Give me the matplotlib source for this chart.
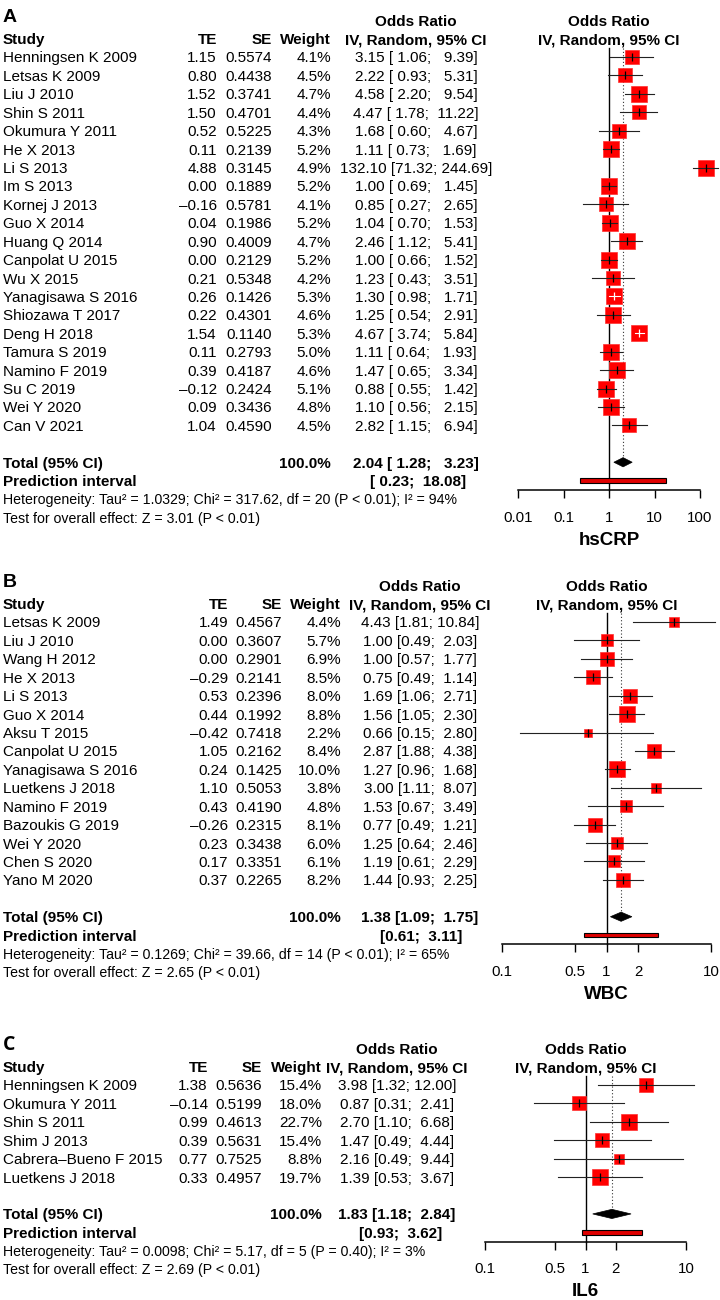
import numpy as np
import matplotlib
matplotlib.use('Agg')
import matplotlib.pyplot as plt
from matplotlib.patches import Polygon, Rectangle
from matplotlib.ticker import NullLocator

plt.rcParams['font.family'] = ['Liberation Sans', 'DejaVu Sans']

# ---------------- Panel A : hsCRP ----------------
a_studies = ["Henningsen K 2009", "Letsas K 2009", "Liu J 2010", "Shin S 2011", "Okumura Y 2011",
             "He X 2013", "Li S 2013", "Im S 2013", "Kornej J 2013", "Guo X 2014", "Huang Q 2014",
             "Canpolat U 2015", "Wu X 2015", "Yanagisawa S 2016", "Shiozawa T 2017", "Deng H 2018",
             "Tamura S 2019", "Namino F 2019", "Su C 2019", "Wei Y 2020", "Can V 2021"]
a_te = [1.15, 0.80, 1.52, 1.50, 0.52, 0.11, 4.88, 0.00, -0.16, 0.04, 0.90, 0.00, 0.21, 0.26, 0.22,
        1.54, 0.11, 0.39, -0.12, 0.09, 1.04]
a_se = [0.5574, 0.4438, 0.3741, 0.4701, 0.5225, 0.2139, 0.3145, 0.1889, 0.5781, 0.1986, 0.4009,
        0.2129, 0.5348, 0.1426, 0.4301, 0.1140, 0.2793, 0.4187, 0.2424, 0.3436, 0.4590]
a_weight = [4.1, 4.5, 4.7, 4.4, 4.3, 5.2, 4.9, 5.2, 4.1, 5.2, 4.7, 5.2, 4.2, 5.3, 4.6, 5.3, 5.0,
            4.6, 5.1, 4.8, 4.5]
a_or = [3.15, 2.22, 4.58, 4.47, 1.68, 1.11, 132.10, 1.00, 0.85, 1.04, 2.46, 1.00, 1.23, 1.30, 1.25,
        4.67, 1.11, 1.47, 0.88, 1.10, 2.82]
a_lo = [1.06, 0.93, 2.20, 1.78, 0.60, 0.73, 71.32, 0.69, 0.27, 0.70, 1.12, 0.66, 0.43, 0.98, 0.54,
        3.74, 0.64, 0.65, 0.55, 0.56, 1.15]
a_hi = [9.39, 5.31, 9.54, 11.22, 4.67, 1.69, 244.69, 1.45, 2.65, 1.53, 5.41, 1.52, 3.51, 1.71, 2.91,
        5.84, 1.93, 3.34, 1.42, 2.15, 6.94]
a_total = [2.04, 1.28, 3.23]
a_pred = [0.23, 18.08]
a_het = "Heterogeneity: Tau² = 1.0329; Chi² = 317.62, df = 20 (P < 0.01); I² = 94%"
a_test = "Test for overall effect: Z = 3.01 (P < 0.01)"
a_ticks = [0.01, 0.1, 1, 10, 100]
a_ticklabels = ["0.01", "0.1", "1", "10", "100"]
a_xlabel = "hsCRP"

# ---------------- Panel B : WBC ----------------
b_studies = ["Letsas K 2009", "Liu J 2010", "Wang H 2012", "He X 2013", "Li S 2013", "Guo X 2014",
             "Aksu T 2015", "Canpolat U 2015", "Yanagisawa S 2016", "Luetkens J 2018",
             "Namino F 2019", "Bazoukis G 2019", "Wei Y 2020", "Chen S 2020", "Yano M 2020"]
b_te = [1.49, 0.00, 0.00, -0.29, 0.53, 0.44, -0.42, 1.05, 0.24, 1.10, 0.43, -0.26, 0.23, 0.17, 0.37]
b_se = [0.4567, 0.3607, 0.2901, 0.2141, 0.2396, 0.1992, 0.7418, 0.2162, 0.1425, 0.5053, 0.4190,
        0.2315, 0.3438, 0.3351, 0.2265]
b_weight = [4.4, 5.7, 6.9, 8.5, 8.0, 8.8, 2.2, 8.4, 10.0, 3.8, 4.8, 8.1, 6.0, 6.1, 8.2]
b_or = [4.43, 1.00, 1.00, 0.75, 1.69, 1.56, 0.66, 2.87, 1.27, 3.00, 1.53, 0.77, 1.25, 1.19, 1.44]
b_lo = [1.81, 0.49, 0.57, 0.49, 1.06, 1.05, 0.15, 1.88, 0.96, 1.11, 0.67, 0.49, 0.64, 0.61, 0.93]
b_hi = [10.84, 2.03, 1.77, 1.14, 2.71, 2.30, 2.80, 4.38, 1.68, 8.07, 3.49, 1.21, 2.46, 2.29, 2.25]
b_total = [1.38, 1.09, 1.75]
b_pred = [0.61, 3.11]
b_het = "Heterogeneity: Tau² = 0.1269; Chi² = 39.66, df = 14 (P < 0.01); I² = 65%"
b_test = "Test for overall effect: Z = 2.65 (P < 0.01)"
b_ticks = [0.1, 0.5, 1, 2, 10]
b_ticklabels = ["0.1", "0.5", "1", "2", "10"]
b_xlabel = "WBC"

# ---------------- Panel C : IL6 ----------------
c_studies = ["Henningsen K 2009", "Okumura Y 2011", "Shin S 2011", "Shim J 2013",
             "Cabrera–Bueno F 2015", "Luetkens J 2018"]
c_te = [1.38, -0.14, 0.99, 0.39, 0.77, 0.33]
c_se = [0.5636, 0.5199, 0.4613, 0.5631, 0.7525, 0.4957]
c_weight = [15.4, 18.0, 22.7, 15.4, 8.8, 19.7]
c_or = [3.98, 0.87, 2.70, 1.47, 2.16, 1.39]
c_lo = [1.32, 0.31, 1.10, 0.49, 0.49, 0.53]
c_hi = [12.00, 2.41, 6.68, 4.44, 9.44, 3.67]
c_total = [1.83, 1.18, 2.84]
c_pred = [0.93, 3.62]
c_het = "Heterogeneity: Tau² = 0.0098; Chi² = 5.17, df = 5 (P = 0.40); I² = 3%"
c_test = "Test for overall effect: Z = 2.69 (P < 0.01)"
c_ticks = [0.1, 0.5, 1, 2, 10]
c_ticklabels = ["0.1", "0.5", "1", "2", "10"]
c_xlabel = "IL6"

W, H = 720, 1300
DPI = 100
fig = plt.figure(figsize=(W / DPI, H / DPI), dpi=DPI)

FS = 11
STEP = 18.42


def base_off(size):
    return 0.358 * size * DPI / 72.0


def ftext(x, y, s, ha='left', size=FS, weight='normal', family=None):
    kw = {}
    if family is not None:
        kw['family'] = family
    fig.text(x / W, 1 - (y + base_off(size)) / H, s, ha=ha, va='baseline',
             fontsize=size, fontweight=weight, **kw)


def fmt_te(v):
    s = f"{v:.2f}"
    return s.replace('-', '–')


def panel(label, label_family, studies, te, se, wt, orv, lo, hi, total, pred, het, test,
          ticks, ticklabels, xlabel, row0, cols, orc, pred_right, plot_px, xlim,
          lo_w, hi_w):
    n = len(studies)
    te_r, se_r, w_r = cols
    ry = lambda r: row0 + r * STEP

    # labels / headers
    ftext(3, row0 - 42, label, size=14, weight='bold', family=label_family)
    ftext(orc, ry(-2), "Odds Ratio", ha='center', weight='bold')
    ftext(orc, ry(-1), "IV, Random, 95% CI", ha='center', weight='bold')
    ftext(3, ry(-1), "Study", weight='bold')
    ftext(te_r, ry(-1), "TE", ha='right', weight='bold')
    ftext(se_r, ry(-1), "SE", ha='right', weight='bold')
    ftext(w_r, ry(-1), "Weight", ha='right', weight='bold')

    for i in range(n):
        y = ry(i)
        ftext(3, y, studies[i])
        ftext(te_r, y, fmt_te(te[i]), ha='right')
        ftext(se_r, y, f"{se[i]:.4f}", ha='right')
        ftext(w_r, y, f"{wt[i]:.1f}%", ha='right')
        ftext(orc, y, f"{orv[i]:.2f} [{lo[i]:{lo_w}.2f}; {hi[i]:{hi_w}.2f}]", ha='center')

    yt = ry(n + 1)
    yp = ry(n + 2)
    ftext(3, yt, "Total (95% CI)", weight='bold')
    ftext(w_r, yt, "100.0%", ha='right', weight='bold')
    ftext(orc, yt, f"{total[0]:.2f} [{total[1]:{lo_w}.2f}; {total[2]:{hi_w}.2f}]",
          ha='center', weight='bold')
    ftext(3, yp, "Prediction interval", weight='bold')
    ftext(pred_right, yp, f"[{pred[0]:{lo_w}.2f}; {pred[1]:{hi_w}.2f}]", ha='right',
          weight='bold')
    ftext(3, ry(n + 3), het, size=10.2)
    ftext(3, ry(n + 4), test, size=10.2)

    # forest axes
    top = row0 - STEP / 2
    axis_y = row0 + (n + 2.5) * STEP
    xl, xr = plot_px
    ax = fig.add_axes([xl / W, 1 - axis_y / H, (xr - xl) / W, (axis_y - top) / H])
    ax.set_xscale('log')
    ax.set_xlim(*xlim)
    ax.set_ylim(axis_y, top)
    ax.patch.set_visible(False)
    for s in ['top', 'left', 'right']:
        ax.spines[s].set_visible(False)
    ax.spines['bottom'].set_linewidth(1.1)
    ax.set_yticks([])
    ax.set_xticks(ticks)
    ax.set_xticklabels(ticklabels)
    ax.xaxis.set_minor_locator(NullLocator())
    ax.tick_params(axis='x', length=6, width=1.0, pad=9, labelsize=10.8)

    # reference lines
    ax.plot([1, 1], [top, axis_y], color='black', lw=1.0, zorder=1, clip_on=False)
    ax.plot([total[0], total[0]], [top, yt], color='#333333', lw=0.8, ls=(0, (1, 2)),
            zorder=1, clip_on=False)

    ax.text(1, ry(-2) + base_off(FS), "Odds Ratio", ha='center', va='baseline',
            fontsize=FS, fontweight='bold', clip_on=False)
    ax.text(1, ry(-1) + base_off(FS), "IV, Random, 95% CI", ha='center', va='baseline',
            fontsize=FS, fontweight='bold', clip_on=False)
    ax.text(1, axis_y + 48 + base_off(13.5), xlabel, ha='center', va='baseline',
            fontsize=13.5, fontweight='bold', clip_on=False)

    wmax = max(wt)
    MS = 11.6      # drawn box size (pt) for the largest weight
    MS_RULE = 10.6  # box size used for the "CI inside box" colour rule
    for i in range(n):
        y = ry(i)
        f = np.sqrt(wt[i] / wmax)
        ms = MS * f
        side_px = MS_RULE * f * DPI / 72.0
        p = ax.transData.transform([[lo[i], y], [hi[i], y]])
        inside = (p[1][0] - p[0][0]) < side_px
        c = 'white' if inside else 'black'
        lc = 'white' if inside else '#222222'
        ax.plot([orv[i]], [y], marker='s', ms=ms, color='#ff0000', mec='#ff3030', mew=0.5,
                ls='none', zorder=3, clip_on=False)
        ax.plot([lo[i], hi[i]], [y, y], color=lc, lw=0.8, zorder=4, clip_on=False)
        ax.plot([orv[i]], [y], marker='|', ms=5.5, mew=0.9, color=c, ls='none', zorder=5,
                clip_on=False)

    # diamond
    h = 4.6
    dia = Polygon([[total[1], yt], [total[0], yt - h], [total[2], yt], [total[0], yt + h]],
                  closed=True, facecolor='black', edgecolor='black', lw=0.5, zorder=4,
                  clip_on=False)
    ax.add_patch(dia)
    # prediction interval
    rect = Rectangle((pred[0], yp - 2.3), pred[1] - pred[0], 4.6, facecolor='#e00000',
                     edgecolor='black', lw=0.8, zorder=4, clip_on=False)
    ax.add_patch(rect)
    return ax


panel("A", None, a_studies, a_te, a_se, a_weight, a_or, a_lo, a_hi, a_total, a_pred, a_het,
      a_test, a_ticks, a_ticklabels, a_xlabel, row0=57, cols=(217, 272, 331), orc=416,
      pred_right=466, plot_px=(518, 700), xlim=(0.01, 100), lo_w=5, hi_w=6)
panel("B", None, b_studies, b_te, b_se, b_weight, b_or, b_lo, b_hi, b_total, b_pred, b_het,
      b_test, b_ticks, b_ticklabels, b_xlabel, row0=622, cols=(228, 282, 341), orc=420,
      pred_right=462, plot_px=(502, 711), xlim=(0.1, 10), lo_w=4, hi_w=5)
panel("C", ['Open Sans', 'DejaVu Sans'], c_studies, c_te, c_se, c_weight, c_or, c_lo, c_hi,
      c_total, c_pred, c_het, c_test, c_ticks, c_ticklabels, c_xlabel, row0=1085,
      cols=(208, 262, 322), orc=397, pred_right=442, plot_px=(485, 686), xlim=(0.1, 10),
      lo_w=4, hi_w=5)

fig.savefig("out.png", dpi=DPI)
